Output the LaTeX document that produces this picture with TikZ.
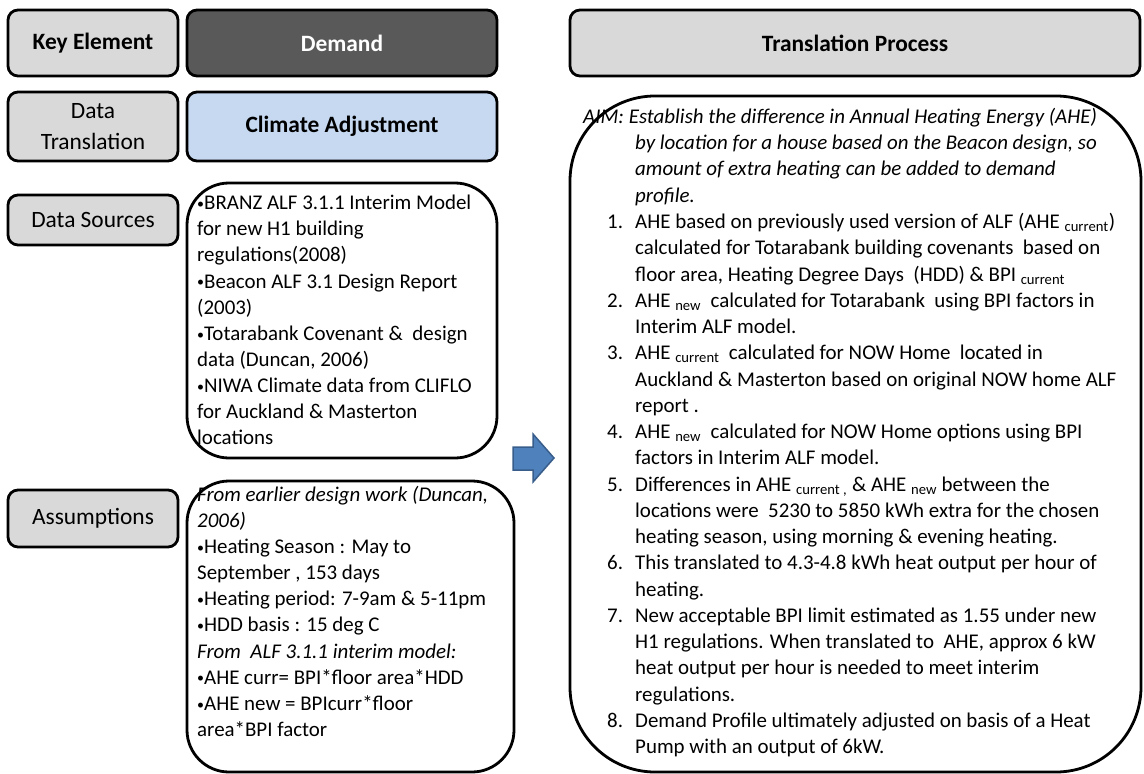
\documentclass[tikz,border=0pt]{standalone}
\usepackage{fontspec}
\setmainfont{Carlito}
\definecolor{hdrgray}{HTML}{D9D9D9}
\definecolor{demandgray}{HTML}{595959}
\definecolor{climblue}{HTML}{C6D9F1}
\definecolor{arrowblue}{HTML}{4F81BD}
\definecolor{arrowedge}{HTML}{385D8A}
\newcommand{\itm}[1]{\hspace*{24bp}\makebox[28bp][l]{#1}}
\newcommand{\cnt}{\hspace*{52bp}}
\newcommand{\sub}[1]{\textsubscript{#1}}
\newcommand{\bul}{\raisebox{1.2bp}{\fontsize{14}{14}\selectfont•}}
\begin{document}
\begin{tikzpicture}[x=1bp,y=-1bp,
  hdr/.style={draw=black, line width=2.8bp, rounded corners=10bp, fill=hdrgray,
    inner sep=0pt, align=center, font=\fontsize{23.5}{31}\selectfont},
  bold/.style={font=\fontsize{23.5}{31}\selectfont\bfseries},
  panel/.style={draw=black, line width=2.8bp, fill=white, inner sep=0pt},
  body/.style={anchor=north west, inner sep=0pt, align=left,
    font=\fontsize{21}{26.2}\selectfont},
  blockarrow/.style={fill=arrowblue, draw=arrowedge, line width=1.5bp, line join=miter}
]
\useasboundingbox (0,0) rectangle (1144,774);

% header row
\node[hdr, bold, minimum width=170bp, minimum height=66bp] (key) at (93,43) {Key Element};
\node[hdr, bold, fill=demandgray, text=white, minimum width=310bp, minimum height=66bp] (demand) at (342,43) {Demand};
\node[hdr, bold, minimum width=570bp, minimum height=66bp] (proc) at (855,43) {Translation Process};

% second row
\node[hdr, minimum width=170bp, minimum height=69bp] (trans) at (93,126.5) {Data\\Translation};
\node[hdr, bold, fill=climblue, minimum width=310bp, minimum height=69bp] (climate) at (342,126.5) {Climate Adjustment};

% row labels
\node[hdr, minimum width=170bp, minimum height=50bp] (srclab) at (93,220) {Data Sources};
\node[hdr, minimum width=170bp, minimum height=57bp] (asslab) at (93,518.5) {Assumptions};

% content panels
\node[panel, rounded corners=42bp, minimum width=310bp, minimum height=275bp] (srcbox) at (342,320.5) {};
\node[panel, rounded corners=42bp, minimum width=327bp, minimum height=291bp] (assbox) at (350.5,626.5) {};
\node[panel, rounded corners=85bp, minimum width=571bp, minimum height=676bp] (procbox) at (855.5,434) {};

% block arrow between the columns
\draw[blockarrow] (513,447) -- (533,447) -- (533,434) -- (554,458) -- (533,482)
  -- (533,470) -- (513,470) -- cycle;

% panel texts
\node[body] (srctext) at (197,195) {%
\bul BRANZ ALF 3.1.1 Interim Model\\
for new H1 building\\
regulations(2008)\\
\bul Beacon ALF 3.1 Design Report\\
(2003)\\
\bul Totarabank Covenant \&~ design\\
data (Duncan, 2006)\\
\bul NIWA Climate data from CLIFLO\\
for Auckland \& Masterton\\
locations};

\node[body] (asstext) at (197,486) {%
\textit{From earlier design work (Duncan,}\\
\textit{2006)}\\
\bul Heating Season : May to\\
September , 153 days\\
\bul Heating period: 7-9am \& 5-11pm\\
\bul HDD basis : 15 deg C\\
\textit{From~ ALF 3.1.1 interim model:}\\
\bul AHE curr= BPI*floor area*HDD\\
\bul AHE new = BPIcurr*floor\\
area*BPI factor};

\node[body, font=\fontsize{21}{26.35}\selectfont] (proctext) at (583,108) {%
\textit{AIM: Establish the difference in Annual Heating Energy (AHE)}\\
\cnt\textit{by location for a house based on the Beacon design, so}\\
\cnt\textit{amount of extra heating can be added to demand}\\
\cnt\textit{profile.}\\
\itm{1.}AHE based on previously used version of ALF (AHE \sub{current})\\
\cnt calculated for Totarabank building covenants~ based on\\
\cnt floor area, Heating Degree Days~ (HDD) \& BPI \sub{current}\\
\itm{2.}AHE \sub{new}~ calculated for Totarabank~ using BPI factors in\\
\cnt Interim ALF model.\\
\itm{3.}AHE \sub{current}~ calculated for NOW Home~ located in\\
\cnt Auckland \& Masterton based on original NOW home ALF\\
\cnt report .\\
\itm{4.}AHE \sub{new}~ calculated for NOW Home options using BPI\\
\cnt factors in Interim ALF model.\\
\itm{5.}Differences in AHE \sub{current ,} \& AHE \sub{new} between the\\
\cnt locations were~ 5230 to 5850 kWh extra for the chosen\\
\cnt heating season, using morning \& evening heating.\\
\itm{6.}This translated to 4.3-4.8 kWh heat output per hour of\\
\cnt heating.\\
\itm{7.}New acceptable BPI limit estimated as 1.55 under new\\
\cnt H1 regulations. When translated to~ AHE, approx 6 kW\\
\cnt heat output per hour is needed to meet interim\\
\cnt regulations.\\
\itm{8.}Demand Profile ultimately adjusted on basis of a Heat\\
\cnt Pump with an output of 6kW.};
\end{tikzpicture}
\end{document}
